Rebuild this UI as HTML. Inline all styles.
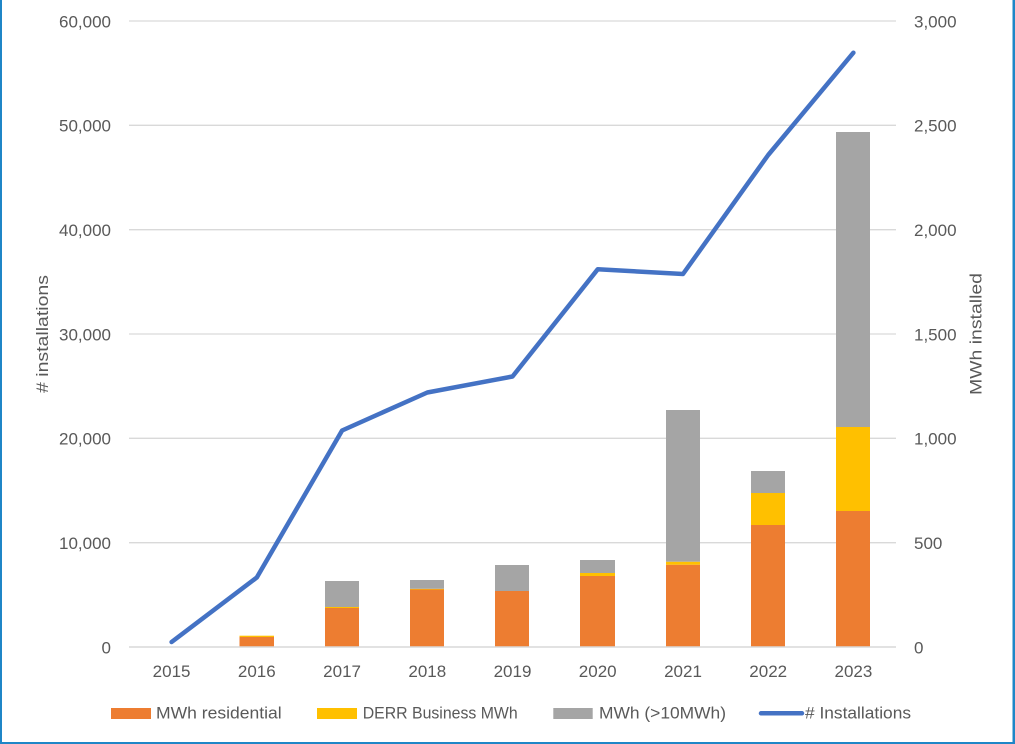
<!DOCTYPE html>
<html><head><meta charset="utf-8"><style>
html,body{margin:0;padding:0;background:#fff;}
svg{display:block;}
text{font-family:"Liberation Sans",Arial,sans-serif;fill:#595959;font-size:17px;}
</style></head><body>
<svg width="1015" height="744" viewBox="0 0 1015 744" xmlns="http://www.w3.org/2000/svg">
<rect x="0" y="0" width="1015" height="744" fill="#fff"/>
<!-- gridlines -->
<g stroke="#D9D9D9" stroke-width="1.3">
<line x1="129" y1="21" x2="896" y2="21"/>
<line x1="129" y1="125.3" x2="896" y2="125.3"/>
<line x1="129" y1="229.7" x2="896" y2="229.7"/>
<line x1="129" y1="334" x2="896" y2="334"/>
<line x1="129" y1="438.3" x2="896" y2="438.3"/>
<line x1="129" y1="542.7" x2="896" y2="542.7"/>
</g>
<!-- bars -->
<g>
<!-- 2016 -->
<rect x="239.5" y="637" width="34.5" height="9.5" fill="#ED7D31"/>
<rect x="239.5" y="635.7" width="34.5" height="1.3" fill="#FFC000"/>
<!-- 2017 -->
<rect x="325" y="608" width="34" height="38.5" fill="#ED7D31"/>
<rect x="325" y="607" width="34" height="1" fill="#FFC000"/>
<rect x="325" y="581" width="34" height="26" fill="#A5A5A5"/>
<!-- 2018 -->
<rect x="410" y="589.5" width="34" height="57" fill="#ED7D31"/>
<rect x="410" y="588.8" width="34" height="0.7" fill="#FFC000"/>
<rect x="410" y="580" width="34" height="8.8" fill="#A5A5A5"/>
<!-- 2019 -->
<rect x="495" y="591" width="34" height="55.5" fill="#ED7D31"/>
<rect x="495" y="565" width="34" height="26" fill="#A5A5A5"/>
<!-- 2020 -->
<rect x="580" y="576" width="35" height="70.5" fill="#ED7D31"/>
<rect x="580" y="573" width="35" height="3" fill="#FFC000"/>
<rect x="580" y="560" width="35" height="13" fill="#A5A5A5"/>
<!-- 2021 -->
<rect x="666" y="564.7" width="34" height="81.8" fill="#ED7D31"/>
<rect x="666" y="561.7" width="34" height="3" fill="#FFC000"/>
<rect x="666" y="410" width="34" height="151.7" fill="#A5A5A5"/>
<!-- 2022 -->
<rect x="751" y="525" width="34" height="121.5" fill="#ED7D31"/>
<rect x="751" y="493" width="34" height="32" fill="#FFC000"/>
<rect x="751" y="471" width="34" height="22" fill="#A5A5A5"/>
<!-- 2023 -->
<rect x="836" y="511" width="34" height="135.5" fill="#ED7D31"/>
<rect x="836" y="427" width="34" height="84" fill="#FFC000"/>
<rect x="836" y="132" width="34" height="295" fill="#A5A5A5"/>
</g>
<!-- x axis line -->
<line x1="129" y1="647" x2="896" y2="647" stroke="#D9D9D9" stroke-width="1.5"/>
<!-- line series -->
<polyline fill="none" stroke="#4472C4" stroke-width="4.5" stroke-linejoin="round" stroke-linecap="round"
points="171.6,642 256.8,577.5 342.1,430.5 427.3,392.5 512.5,376.5 597.7,269.3 683,274 768.2,155 853.4,52.7"/>
<!-- left tick labels -->
<g text-anchor="end">
<text x="111" y="27.3">60,000</text>
<text x="111" y="131.6">50,000</text>
<text x="111" y="236">40,000</text>
<text x="111" y="340.3">30,000</text>
<text x="111" y="444.6">20,000</text>
<text x="111" y="549">10,000</text>
<text x="111" y="653.3">0</text>
</g>
<!-- right tick labels -->
<g text-anchor="start">
<text x="914" y="27.3">3,000</text>
<text x="914" y="131.6">2,500</text>
<text x="914" y="236">2,000</text>
<text x="914" y="340.3">1,500</text>
<text x="914" y="444.6">1,000</text>
<text x="914" y="549">500</text>
<text x="914" y="653.3">0</text>
</g>
<!-- x labels -->
<g text-anchor="middle">
<text x="171.6" y="677">2015</text>
<text x="256.8" y="677">2016</text>
<text x="342.1" y="677">2017</text>
<text x="427.3" y="677">2018</text>
<text x="512.5" y="677">2019</text>
<text x="597.7" y="677">2020</text>
<text x="683" y="677">2021</text>
<text x="768.2" y="677">2022</text>
<text x="853.4" y="677">2023</text>
</g>
<!-- axis titles -->
<text transform="translate(48,334) rotate(-90)" text-anchor="middle" textLength="118" lengthAdjust="spacingAndGlyphs">#  installations</text>
<text transform="translate(981.5,334) rotate(-90)" text-anchor="middle" textLength="122" lengthAdjust="spacingAndGlyphs">MWh installed</text>
<!-- legend -->
<rect x="111" y="708" width="40" height="11" fill="#ED7D31"/>
<text x="156" y="718.3" textLength="125.7" lengthAdjust="spacingAndGlyphs">MWh residential</text>
<rect x="317" y="708" width="40" height="11" fill="#FFC000"/>
<text x="362.7" y="718.3" textLength="155" lengthAdjust="spacingAndGlyphs">DERR Business MWh</text>
<rect x="553.3" y="708" width="39.4" height="11" fill="#A5A5A5"/>
<text x="599" y="718.3" textLength="127" lengthAdjust="spacingAndGlyphs">MWh (&gt;10MWh)</text>
<line x1="761" y1="713.3" x2="802" y2="713.3" stroke="#4472C4" stroke-width="4.5" stroke-linecap="round"/>
<text x="805" y="718.3" textLength="106" lengthAdjust="spacingAndGlyphs"># Installations</text>
<!-- border -->
<rect x="0" y="0" width="2" height="744" fill="#1F86C7"/>
<rect x="1012.5" y="0" width="2.5" height="744" fill="#1F86C7"/>
<rect x="0" y="742" width="1015" height="2" fill="#1F86C7"/>
</svg>
</body></html>
